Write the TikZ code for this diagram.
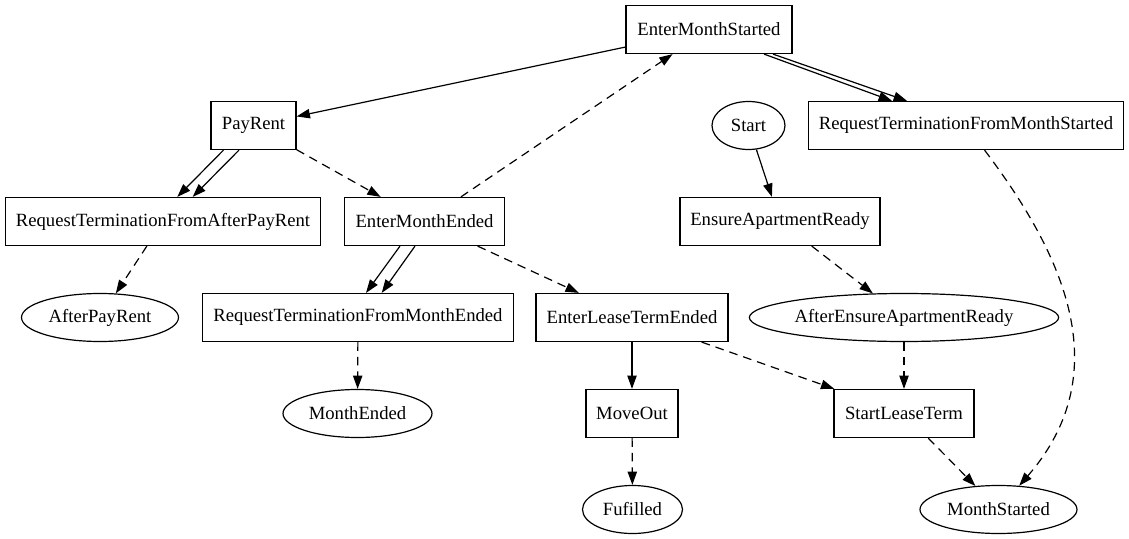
\documentclass[tikz,border=0pt]{standalone}
\usepackage{fontspec}
\setmainfont{Liberation Serif}
\usepackage{tikz}
\usetikzlibrary{arrows.meta,shapes.geometric}

\begin{document}
\begin{tikzpicture}[x=0.75pt,y=-0.75pt,>={Triangle[length=10pt,width=7pt]},
  font=\fontsize{14}{16}\selectfont,line width=0.9pt,
  box/.style={draw,rectangle,minimum height=36pt,inner sep=0pt},
  oval/.style={draw,ellipse,minimum height=36pt,inner sep=0pt},
  dep/.style={->,dash pattern=on 6.5pt off 4.5pt}]
\useasboundingbox (0,0) rectangle (1129,539);
\node[box,minimum width=124.5pt] (ems) at (709,29.5) {EnterMonthStarted};
\node[box,minimum width=63.75pt] (pay) at (253.5,125.5) {PayRent};
\node[oval,minimum width=54.75pt] (start) at (748.5,125.5) {Start};
\node[box,minimum width=236.6pt] (rtms) at (966,125.5) {RequestTerminationFromMonthStarted};
\node[box,minimum width=236pt] (rtapr) at (163,221.5) {RequestTerminationFromAfterPayRent};
\node[box,minimum width=119.5pt] (eme) at (424.5,221.5) {EnterMonthEnded};
\node[box,minimum width=150pt] (ear) at (780,221.5) {EnsureApartmentReady};
\node[oval,minimum width=117.75pt] (apr) at (100,317.5) {AfterPayRent};
\node[box,minimum width=233pt] (rtme) at (358,317.5) {RequestTerminationFromMonthEnded};
\node[box,minimum width=144pt] (elte) at (632,317.5) {EnterLeaseTermEnded};
\node[oval,minimum width=228.75pt] (aear) at (904,317.5) {AfterEnsureApartmentReady};
\node[oval,minimum width=111.75pt] (me) at (357.5,413.5) {MonthEnded};
\node[box,minimum width=69pt] (move) at (632,413.5) {MoveOut};
\node[box,minimum width=105pt] (slt) at (904,413.5) {StartLeaseTerm};
\node[oval,minimum width=75pt] (ful) at (632.5,509.5) {Fufilled};
\node[oval,minimum width=117.75pt] (ms) at (998.5,509.5) {MonthStarted};
\draw[->] (ems) -- (pay);
\draw[->] ([shift={(55,0)}]ems.south) -- ([shift={(-74,0)}]rtms.north);
\draw[->] ([shift={(64,0)}]ems.south) -- ([shift={(-59,0)}]rtms.north);
\draw[->] (start) -- (ear);
\draw[->] ([shift={(-30,0)}]pay.south) -- ([shift={(14.3,0)}]rtapr.north);
\draw[->] ([shift={(-14.5,0)}]pay.south) -- ([shift={(29.7,0)}]rtapr.north);
\draw[dep] (pay) -- (eme);
\draw[dep] (eme) -- (ems);
\draw[dep] (rtapr) -- (apr);
\draw[->] ([shift={(-24.5,0)}]eme.south) -- ([shift={(8,0)}]rtme.north);
\draw[->] ([shift={(-9.5,0)}]eme.south) -- ([shift={(23.7,0)}]rtme.north);
\draw[dep] (eme) -- (elte);
\draw[dep] (rtme) -- (me);
\draw[->] (elte) -- (move);
\draw[dep] (move) -- (ful);
\draw[dep] (ear) -- (aear);
\draw[dep] (aear) -- (slt);
\draw[dep] (elte) -- (slt);
\draw[dep] (slt) -- (ms);
\draw[dep] (rtms) .. controls (1060,250) and (1120,370) .. (ms);
\end{tikzpicture}
\end{document}
